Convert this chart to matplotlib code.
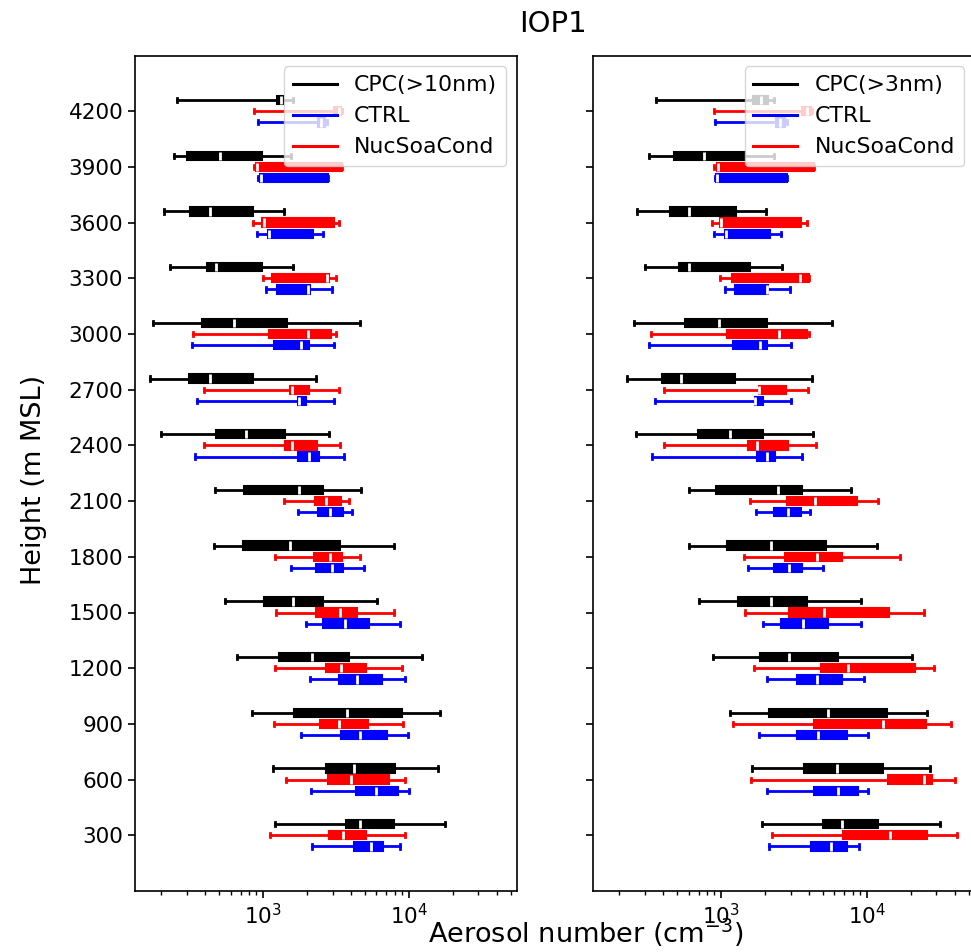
import matplotlib
matplotlib.use("Agg")
import matplotlib.pyplot as plt
from matplotlib.lines import Line2D

# heights (m MSL), one row of [whisker_lo, q1, median, q3, whisker_hi] per height
heights = [300, 600, 900, 1200, 1500, 1800, 2100, 2400, 2700, 3000, 3300, 3600, 3900, 4200]

cpc10 = [[1199, 3698, 4603, 7906, 17700], [1167, 2687, 4217, 8070, 15950],
         [839, 1641, 3740, 9020, 16370], [663, 1276, 2179, 3902, 12330],
         [546, 1008, 1616, 2563, 6085], [459, 730, 1518, 3365, 7906],
         [467, 745, 1775, 2563, 4729], [199, 477, 757, 1418, 2829],
         [168, 310, 431, 848, 2297], [176, 378, 636, 1456, 4603],
         [229, 411, 472, 982, 1599], [208, 315, 431, 848, 1402],
         [243, 298, 502, 984, 1557], [258, 1250, 1320, 1380, 1610]]
ctrl_l = [[2179, 4196, 5536, 6650, 8734], [2123, 4307, 5985, 8410, 10110],
          [1824, 3404, 4603, 7120, 9950], [2100, 3328, 4418, 6550, 9350],
          [1963, 2563, 3637, 5333, 8734], [1550, 2297, 2951, 3547, 4936],
          [1722, 2371, 2876, 3510, 4087], [339, 1747, 2066, 2419, 3581],
          [354, 1731, 1750, 1972, 3077], [324, 1192, 1824, 2066, 3077],
          [1051, 1244, 2040, 2100, 2950], [909, 1073, 1090, 2192, 2588],
          [923, 957, 970, 2800, 2800], [923, 2370, 2500, 2660, 2760]]
nuc_l = [[1120, 2847, 3547, 5120, 9350], [1440, 2800, 3983, 7270, 9350],
         [1192, 2456, 3311, 5247, 9100], [1199, 2699, 3420, 5120, 9020],
         [1225, 2307, 3365, 4443, 7906], [1199, 2249, 2876, 3460, 4603],
         [1396, 2270, 2687, 3404, 3902], [393, 1418, 1590, 2355, 3365],
         [393, 1540, 1570, 2077, 3311], [330, 1102, 2046, 2904, 3142],
         [993, 1151, 2750, 2829, 3160], [853, 983, 1008, 3077, 3328],
         [861, 895, 910, 3490, 3500], [871, 3050, 3300, 3450, 3500]]

cpc3 = [[1923, 5032, 6716, 11990, 31700], [1625, 3733, 6210, 12830, 27350],
        [1156, 2138, 5393, 13870, 25700], [874, 1837, 2944, 6310, 20280],
        [702, 1304, 2192, 3874, 9120], [606, 1096, 2192, 5227, 11670],
        [606, 927, 2450, 3574, 7800], [262, 690, 1156, 1931, 4255],
        [226, 394, 534, 1237, 4190], [252, 569, 972, 2080, 5810],
        [299, 518, 606, 1585, 2608], [265, 449, 606, 1263, 2043],
        [319, 478, 768, 1465, 2290], [357, 1652, 1885, 2114, 2312]]
ctrl_r = [[2138, 4150, 5690, 7350, 8850], [2080, 4350, 6380, 8650, 10250],
          [1807, 3342, 4660, 7350, 10250], [2060, 3342, 4580, 6716, 9620],
          [1954, 2583, 3673, 5445, 9120], [1527, 2313, 2944, 3612, 4976],
          [1730, 2325, 2897, 3521, 4083], [333, 1758, 2060, 2350, 3574],
          [349, 1700, 1720, 1931, 3008], [319, 1199, 1837, 2080, 3026],
          [1057, 1251, 2080, 2114, 2978], [889, 1060, 1075, 2173, 2570],
          [903, 925, 935, 2825, 2825], [912, 2388, 2550, 2755, 2825]]
nuc_r = [[2228, 6900, 14420, 25950, 41880], [1610, 14030, 24650, 27820, 40550],
         [1199, 4350, 12970, 25420, 38100], [1687, 4830, 7397, 21370, 28840],
         [1448, 2944, 5094, 14260, 24770], [1426, 2755, 4532, 6716, 16870],
         [1585, 2825, 4420, 8510, 11990], [403, 1519, 1758, 2897, 4485],
         [403, 1807, 1820, 2798, 3976], [330, 1096, 2477, 3874, 4020],
         [988, 1186, 3487, 4020, 4020], [865, 990, 1005, 3540, 3910],
         [889, 936, 950, 4350, 4350], [889, 3600, 3900, 4150, 4200]]

labels_l = ["CPC(>10nm)", "CTRL", "NucSoaCond"]
labels_r = ["CPC(>3nm)", "CTRL", "NucSoaCond"]


def to_stats(rows):
    return [dict(whislo=r[0], q1=r[1], med=r[2], q3=r[3], whishi=r[4], fliers=[])
            for r in rows]


def draw(ax, rows, offset, c):
    pos = [h + offset for h in heights]
    ax.bxp(to_stats(rows), positions=pos, widths=45, orientation='horizontal',
           patch_artist=True, showfliers=False, manage_ticks=False,
           boxprops=dict(facecolor=c, edgecolor=c, linewidth=1.5),
           whiskerprops=dict(color=c, linewidth=2),
           capprops=dict(color=c, linewidth=2),
           medianprops=dict(color='white', linewidth=2))


fig = plt.figure(figsize=(9.71, 9.52), dpi=100)
W, H = 971, 952
ax1 = fig.add_axes([135 / W, 1 - 891 / H, 382 / W, 835.5 / H])
ax2 = fig.add_axes([593 / W, 1 - 891 / H, 382 / W, 835.5 / H], sharex=ax1, sharey=ax1)

for ax, sets, labs in [(ax1, (cpc10, ctrl_l, nuc_l), labels_l),
                       (ax2, (cpc3, ctrl_r, nuc_r), labels_r)]:
    ax.set_xscale('log')
    draw(ax, sets[0], 60, 'black')
    draw(ax, sets[2], 0, 'red')
    draw(ax, sets[1], -60, 'blue')
    handles = [Line2D([], [], color='black', lw=2.2),
               Line2D([], [], color='blue', lw=2.2),
               Line2D([], [], color='red', lw=2.2)]
    ax.legend(handles, labs, loc='upper right', fontsize=15.8)
    for s in ax.spines.values():
        s.set_linewidth(1.2)
    ax.tick_params(which='major', labelsize=15.5, length=5, width=1.2)
    ax.tick_params(which='minor', length=3, width=1.0)

ax1.set_yticks(heights)
ax1.set_ylim(0, 4500)
ax1.set_xlim(132, 55300)
ax2.tick_params(labelleft=False)

fig.text(553 / W, 1 - 24 / H, "IOP1", ha='center', va='center', fontsize=21)
fig.text(586 / W, 1 - 933 / H, "Aerosol number (cm$^{-3}$)", ha='center', va='center', fontsize=19.5)
fig.text(34 / W, 1 - 480 / H, "Height (m MSL)", ha='center', va='center',
         rotation=90, fontsize=19.5)

fig.savefig("out.png", dpi=100)
